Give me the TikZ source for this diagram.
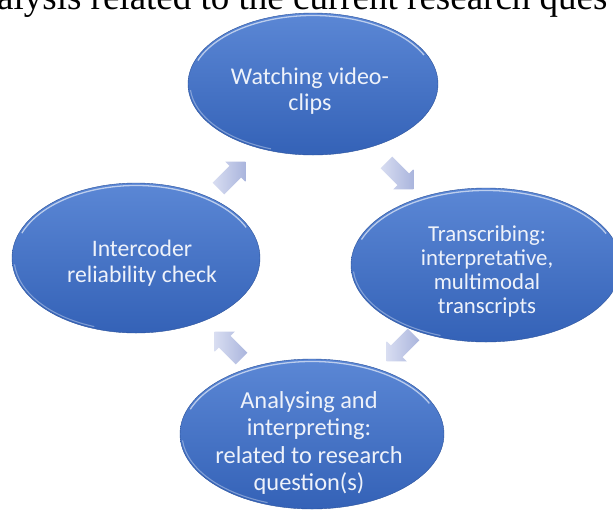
\documentclass[tikz,border=0pt]{standalone}
\usepackage{fontspec}
\setmainfont{Carlito}
\newfontfamily\serifhead{Liberation Serif}
\usetikzlibrary{shapes.geometric,shapes.arrows}
\definecolor{ellTop}{HTML}{5B87D5}
\definecolor{ellBot}{HTML}{3462B7}
\definecolor{ellText}{HTML}{EEF2FA}
\definecolor{arrA}{HTML}{D8DDF1}
\definecolor{arrB}{HTML}{AAB5DD}
\tikzset{
  stage/.style={ellipse, inner sep=0pt, top color=ellTop, bottom color=ellBot,
    draw=ellBot!85!black, line width=0.4pt},
  stagetext/.style={text=ellText, align=center, inner sep=0pt},
  blockarrow/.style={single arrow, inner sep=8pt, single arrow head extend=6pt,
    minimum height=38pt, left color=arrA, right color=arrB, draw=none},
  rim/.style={white, opacity=0.6, line width=1.3pt},
  lowrim/.style={white, opacity=0.35, line width=1.1pt}
}
\begin{document}
\begin{tikzpicture}[x=1pt,y=-1pt]
\useasboundingbox (0,0) rectangle (613,512);
\clip (0,0) rectangle (613,512);
\fill[white] (0,0) rectangle (613,512);
\node[anchor=base west, font=\serifhead\fontsize{37}{37}\selectfont, inner sep=0pt] (head) at (-3,9) {alysis related to the current research ques};
% ellipses
\node[stage, minimum width=250pt, minimum height=142pt] (w) at (313,84) {};
\node[stage, minimum width=270pt, minimum height=154pt] (t) at (486,265) {};
\node[stage, minimum width=248pt, minimum height=150pt] (i) at (136,258) {};
\node[stage, minimum width=264pt, minimum height=150pt] (a) at (312,434) {};
\foreach \cx/\cy/\rx/\ry in {313/84/125/71, 486/265/135/77, 136/258/124/75, 312/434/132/75}{
  \draw[rim] (\cx,\cy) ++(-160:{\rx-2.5} and {\ry-2.5}) arc[start angle=-160, end angle=-25, x radius=\rx-2.5, y radius=\ry-2.5];
  \draw[lowrim] (\cx,\cy) ++(175:{\rx-2} and {\ry-2}) arc[start angle=175, end angle=110, x radius=\rx-2, y radius=\ry-2];
}
% texts
\node[stagetext, font=\fontsize{24}{25.5}\selectfont] (wt) at (310,91) {Watching video-\\clips};
\node[stagetext, font=\fontsize{22.8}{24}\selectfont] (tt) at (487,271) {Transcribing:\\interpretative,\\multimodal\\transcripts};
\node[stagetext, font=\fontsize{23.7}{26}\selectfont] (it) at (142,263) {Intercoder\\reliability check};
\node[stagetext, font=\fontsize{24.4}{27.5}\selectfont] (at) at (309,443) {Analysing and\\interpreting:\\related to research\\question(s)};
% arrows
\node[blockarrow, rotate=45] (ar1) at (229,178) {};
\node[blockarrow, rotate=-45] (ar2) at (397,173) {};
\node[blockarrow, rotate=-135] (ar3) at (403,345) {};
\node[blockarrow, rotate=135] (ar4) at (231,348) {};
\end{tikzpicture}
\end{document}
